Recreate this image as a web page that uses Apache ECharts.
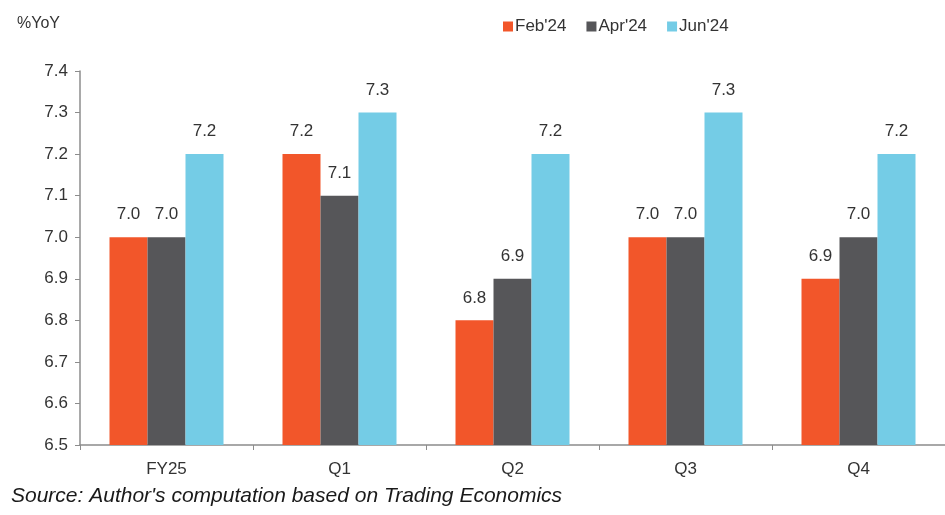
<!DOCTYPE html>
<html>
<head>
<meta charset="utf-8">
<script src="https://cdn.jsdelivr.net/npm/echarts@6/dist/echarts.min.js"></script>
<style>
  html, body { margin: 0; padding: 0; background: #fff; }
  #chart { width: 945px; height: 515px; }
</style>
</head>
<body>
<div id="chart"></div>
<script>
const categories = ['FY25', 'Q1', 'Q2', 'Q3', 'Q4'];
const feb24 = [7.0, 7.2, 6.8, 7.0, 6.9];
const apr24 = [7.0, 7.1, 6.9, 7.0, 7.0];
const jun24 = [7.2, 7.3, 7.2, 7.3, 7.2];

const font = '"Liberation Sans Narrow", "Liberation Sans", Arial, sans-serif';

function barSeries(name, data, color) {
  return {
    name: name,
    type: 'bar',
    data: data,
    barWidth: 38,
    barGap: '0%',
    itemStyle: { color: color },
    label: {
      show: true,
      position: 'top',
      distance: 14,
      color: '#333',
      fontSize: 17,
      fontFamily: font,
      formatter: p => p.value.toFixed(1)
    }
  };
}

let myChart = echarts.init(document.getElementById('chart'));
myChart.setOption({
  animation: false,
  title: [
    {
      text: '%YoY',
      left: 12, top: 11,
      textStyle: { fontSize: 16, fontWeight: 'normal', color: '#333', fontFamily: font }
    },
    {
      text: "Source: Author's computation based on Trading Economics",
      left: 6, top: 481,
      textStyle: { fontSize: 21, fontWeight: 'normal', fontStyle: 'italic', color: '#1a1a1a', fontFamily: font }
    }
  ],
  legend: {
    data: ["Feb'24", "Apr'24", "Jun'24"],
    left: 498, top: 13,
    itemWidth: 10, itemHeight: 10, itemGap: 20,
    icon: 'rect',
    textStyle: { fontSize: 17, color: '#333', fontFamily: font, padding: [0, 0, 0, -3] }
  },
  grid: {
    left: 80,
    right: -8,
    top: 71,
    bottom: 70
  },
  xAxis: {
    type: 'category',
    data: categories,
    axisLine: { lineStyle: { color: '#8c8c8c', width: 1.5 } },
    axisTick: { show: true, length: 5, lineStyle: { color: '#8c8c8c' } },
    axisLabel: { fontSize: 17, color: '#333', fontFamily: font, margin: 16 }
  },
  yAxis: {
    type: 'value',
    min: 6.5,
    max: 7.4,
    interval: 0.1,
    splitLine: { show: false },
    axisLine: { show: true, lineStyle: { color: '#8c8c8c', width: 1.5 } },
    axisTick: { show: true, length: 5, lineStyle: { color: '#8c8c8c' } },
    axisLabel: {
      fontSize: 17, color: '#333', fontFamily: font, margin: 12,
      formatter: v => v.toFixed(1)
    }
  },
  series: [
    barSeries("Feb'24", feb24, '#F2562A'),
    barSeries("Apr'24", apr24, '#565659'),
    barSeries("Jun'24", jun24, '#74CCE6')
  ]
});
</script>
</body>
</html>
